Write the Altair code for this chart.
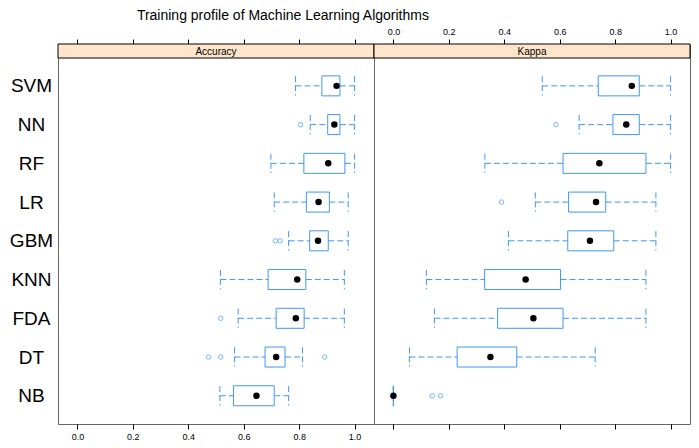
import altair as alt
import pandas as pd

models = ["SVM", "NN", "RF", "LR", "GBM", "KNN", "FDA", "DT", "NB"]

acc_lo  = [0.787, 0.840, 0.698, 0.710, 0.762, 0.516, 0.580, 0.567, 0.514]
acc_q1  = [0.882, 0.903, 0.817, 0.826, 0.838, 0.688, 0.717, 0.677, 0.563]
acc_med = [0.935, 0.927, 0.905, 0.870, 0.868, 0.793, 0.788, 0.717, 0.646]
acc_q3  = [0.947, 0.947, 0.965, 0.909, 0.905, 0.824, 0.818, 0.749, 0.710]
acc_hi  = [1.000, 1.000, 1.000, 0.977, 0.977, 0.963, 0.963, 0.812, 0.762]
acc_out = [[], [0.805], [], [], [0.714, 0.731], [], [0.517], [0.473, 0.517, 0.892], []]

kap_lo  = [0.537, 0.670, 0.330, 0.512, 0.415, 0.119, 0.148, 0.058, 0.000]
kap_q1  = [0.739, 0.792, 0.612, 0.632, 0.629, 0.329, 0.376, 0.230, 0.000]
kap_med = [0.860, 0.840, 0.743, 0.731, 0.709, 0.477, 0.505, 0.350, 0.000]
kap_q3  = [0.887, 0.887, 0.911, 0.766, 0.795, 0.603, 0.612, 0.445, 0.000]
kap_hi  = [1.000, 1.000, 1.000, 0.947, 0.947, 0.911, 0.911, 0.728, 0.000]
kap_out = [[], [0.586], [], [0.390], [], [], [], [], [0.140, 0.170]]

tick_values = [0.0, 0.2, 0.4, 0.6, 0.8, 1.0]

BLUE = "#3f97f5"
FONT = "Liberation Sans"
PW, PH = 316, 380
STRIP = 14
Y_TOP = 0.4 - STRIP / ((PH - STRIP) / 9.2)


def panel(name, lo, q1, med, q3, hi, out, left):
    df = pd.DataFrame({"idx": list(range(1, 10)), "model": models,
                       "lo": lo, "q1": q1, "med": med, "q3": q3, "hi": hi})
    odf = pd.DataFrame([{"idx": i + 1, "v": v} for i, vs in enumerate(out) for v in vs])
    xs = alt.Scale(domain=[-0.07, 1.07], nice=False, zero=False)
    ys = alt.Scale(domain=[Y_TOP, 9.6], nice=False, zero=False, reverse=True)
    if left:
        yax = alt.Axis(values=list(range(1, 10)), title=None, tickSize=0, domain=False,
                       grid=False, labelFontSize=19, labelFont=FONT, labelColor="#000",
                       labelAlign="center", labelPadding=27,
                       labelExpr="['', 'SVM','NN','RF','LR','GBM','KNN','FDA','DT','NB'][datum.value]")
    else:
        yax = None

    def Y(field):
        return alt.Y(field, scale=ys, axis=yax)

    bottom_axis = alt.Axis(orient="bottom", values=tick_values, format=".1f", labels=left,
                           title=None, grid=False, domain=False, tickSize=5, tickColor="#000",
                           labelFontSize=9, labelFont=FONT, labelColor="#000", labelPadding=3)
    top_axis = alt.Axis(orient="top", values=tick_values, format=".1f", labels=not left,
                        title=None, grid=False, domain=False, tickSize=5, tickColor="#000",
                        labelFontSize=9, labelFont=FONT, labelColor="#000", labelPadding=3)

    base = alt.Chart(df)
    dash = [6, 3]

    wl = base.mark_rule(color=BLUE, strokeDash=dash, strokeWidth=1).encode(
        x=alt.X("lo:Q", scale=xs, axis=bottom_axis), x2="q1:Q", y=Y("idx:Q"))
    wr = base.mark_rule(color=BLUE, strokeDash=dash, strokeWidth=1).encode(
        x=alt.X("q3:Q", scale=xs, axis=None), x2="hi:Q", y=Y("idx:Q"))
    caps = base.transform_calculate(ya="datum.idx - 0.25", yb="datum.idx + 0.25")
    cl = caps.mark_rule(color=BLUE, strokeDash=dash, strokeWidth=1).encode(
        x=alt.X("lo:Q", scale=xs, axis=None), y=Y("ya:Q"), y2="yb:Q")
    cr = caps.mark_rule(color=BLUE, strokeDash=dash, strokeWidth=1).encode(
        x=alt.X("hi:Q", scale=xs, axis=None), y=Y("ya:Q"), y2="yb:Q")
    box = base.mark_bar(size=20, fill="white", stroke=BLUE, strokeWidth=1,
                        orient="horizontal").encode(
        x=alt.X("q1:Q", scale=xs, axis=None), x2="q3:Q", y=Y("idx:Q"))
    medp = base.mark_circle(size=42, color="#000", opacity=1).encode(
        x=alt.X("med:Q", scale=xs, axis=None), y=Y("idx:Q"))
    topax = base.mark_point(opacity=0, size=1).encode(
        x=alt.X("med:Q", scale=xs, axis=top_axis), y=Y("idx:Q"))
    outs = alt.Chart(odf).mark_point(shape="circle", size=20, color=BLUE, filled=False,
                                    strokeWidth=1).encode(
        x=alt.X("v:Q", scale=xs, axis=None), y=Y("idx:Q"))

    sdf = pd.DataFrame({"label": [name]})
    strip = alt.Chart(sdf).mark_rect(fill="#ffe5cc", stroke="#000", strokeWidth=1).encode(
        x=alt.value(0), x2=alt.value(PW), y=alt.value(0), y2=alt.value(STRIP))
    stext = alt.Chart(sdf).mark_text(fontSize=10, font=FONT, color="#000",
                                     baseline="middle", align="center").encode(
        x=alt.value(PW / 2), y=alt.value(STRIP / 2 + 0.5), text="label:N")

    return alt.layer(wl, wr, cl, cr, box, medp, outs, topax, strip, stext).resolve_axis(
        x="independent").properties(width=PW, height=PH)


left = panel("Accuracy", acc_lo, acc_q1, acc_med, acc_q3, acc_hi, acc_out, True)
right = panel("Kappa", kap_lo, kap_q1, kap_med, kap_q3, kap_hi, kap_out, False)

chart = alt.hconcat(left, right, spacing=0, bounds="flush").properties(
    padding=0,
    title=alt.TitleParams("Training profile of Machine Learning Algorithms", fontSize=14,
                          font=FONT, fontWeight="normal", color="#000", anchor="middle",
                          frame="bounds", dx=-67, offset=4),
).configure_view(stroke="#666", strokeWidth=1)

chart.save("out.html", embed_options={"renderer": "svg", "actions": False})
